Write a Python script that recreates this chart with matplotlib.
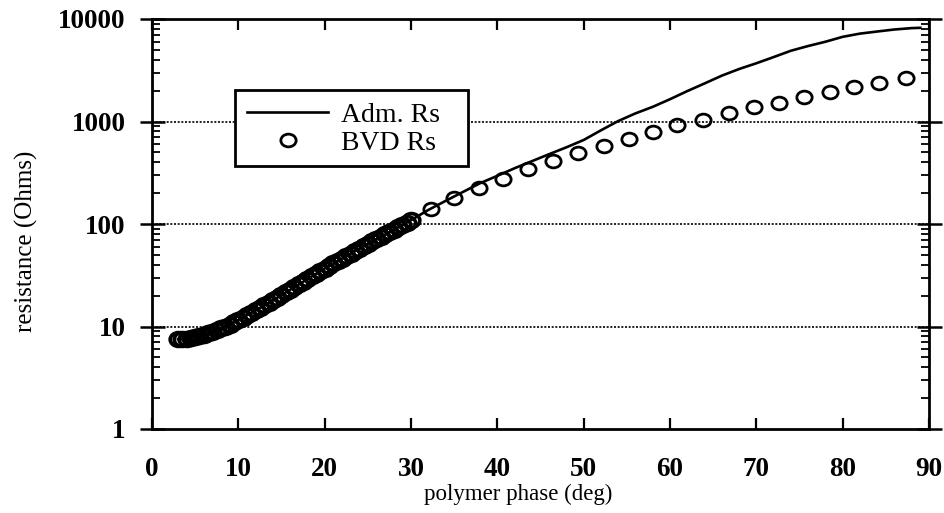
import matplotlib
matplotlib.use("Agg")
import matplotlib.pyplot as plt
from matplotlib.path import Path
from matplotlib.patches import Rectangle
from matplotlib.transforms import Affine2D
from matplotlib.ticker import LogLocator, FixedLocator, NullFormatter

# ---- data ----
# dense BVD Rs points (low phase region)
bvd_dense_phase = [3.0, 3.5, 4.0, 4.5, 5.0, 5.5, 6.0, 6.5, 7.0, 7.5, 8.0, 8.5, 9.0, 9.5,
                   10.0, 10.5, 11.0, 11.5, 12.0, 12.5, 13.0, 13.5, 14.0, 14.5, 15.0, 15.5,
                   16.0, 16.5, 17.0, 17.5, 18.0, 18.5, 19.0, 19.5, 20.0, 20.5, 21.0, 21.5,
                   22.0, 22.5, 23.0, 23.5, 24.0, 24.5, 25.0, 25.5, 26.0, 26.5, 27.0, 27.5,
                   28.0, 28.5, 29.0, 29.5, 30.0]
bvd_dense_rs = [7.5, 7.5, 7.6, 7.7, 7.9, 8.1, 8.3, 8.6, 8.9, 9.2, 9.6, 10.0, 10.4, 11.0,
                11.6, 12.2, 12.9, 13.6, 14.4, 15.2, 16.1, 17.0, 18.0, 19.1, 20.2, 21.5,
                22.8, 24.2, 25.7, 27.3, 29.0, 30.8, 32.7, 34.7, 36.8, 39.0, 41.2, 43.5,
                46.0, 48.7, 51.5, 54.5, 57.5, 60.7, 64.0, 67.5, 71.0, 75.0, 79.0, 83.5,
                88.0, 93.0, 98.0, 103, 109]
# sparse BVD Rs points (high phase region)
bvd_sparse_phase = [32.3, 35.0, 37.9, 40.7, 43.6, 46.5, 49.4, 52.3, 55.2, 58.0,
                    60.8, 63.8, 66.8, 69.7, 72.6, 75.5, 78.5, 81.3, 84.2, 87.3]
bvd_sparse_rs = [140, 181, 226, 277, 343, 416, 490, 577, 681, 796,
                 925, 1035, 1222, 1380, 1531, 1729, 1936, 2148, 2376, 2636]

# Adm. Rs line
adm_phase = [3.0, 4.0, 5.0, 6.0, 7.0, 8.0, 9.0, 10.0, 12.0, 14.0, 16.0, 18.0, 20.0,
             22.0, 24.0, 26.0, 28.0, 30.0, 32.0, 34.0, 36.0, 38.0, 40.0, 42.0, 44.0,
             46.0, 48.0, 50.0, 52.0, 54.0, 56.0, 58.0, 60.0, 62.0, 64.0, 66.0, 68.0,
             70.0, 72.0, 74.0, 76.0, 78.0, 80.0, 82.0, 84.0, 86.0, 88.0, 89.0]
adm_rs = [7.5, 7.6, 7.9, 8.3, 8.9, 9.6, 10.4, 11.6, 14.4, 18.0, 22.8, 29.0, 36.8,
          46.0, 57.5, 71.0, 88.0, 109, 137, 168, 205, 250, 295, 350, 410,
          480, 560, 660, 820, 1010, 1200, 1390, 1650, 1980, 2350, 2800, 3250,
          3700, 4250, 4900, 5450, 6000, 6700, 7200, 7550, 7900, 8150, 8200]

x_ticks = [0, 10, 20, 30, 40, 50, 60, 70, 80, 90]
y_ticks = [1, 10, 100, 1000, 10000]
y_tick_labels = ["1", "10", "100", "1000", "10000"]
x_label = "polymer phase (deg)"
y_label = "resistance (Ohms)"
series_names = ["Adm. Rs", "BVD Rs"]

# ---- figure ----
plt.rcParams['font.family'] = ['Liberation Serif', 'DejaVu Serif']
fig = plt.figure(figsize=(9.45, 5.13), dpi=100)
ax = fig.add_axes([152/945, 1-429/513, (929-152)/945, (429-19)/513])

ell = Path.unit_circle().transformed(Affine2D().scale(1.2, 1.0))

line, = ax.plot(adm_phase, adm_rs, color='black', lw=1.9, zorder=3)
ax.plot(bvd_dense_phase, bvd_dense_rs, linestyle='none', marker=ell, ms=12,
        mfc='none', mec='black', mew=2.6, zorder=4)
pts, = ax.plot(bvd_sparse_phase, bvd_sparse_rs, linestyle='none', marker=ell, ms=11,
               mfc='none', mec='black', mew=2.0, zorder=4)

ax.set_yscale('log')
ax.set_xlim(0, 90)
ax.set_ylim(1, 10000)

ax.xaxis.set_major_locator(FixedLocator(x_ticks))
ax.set_xticklabels([str(t) for t in x_ticks])
ax.yaxis.set_major_locator(FixedLocator(y_ticks))
ax.set_yticklabels(y_tick_labels)
ax.yaxis.set_minor_locator(LogLocator(base=10, subs=range(2, 10)))
ax.yaxis.set_minor_formatter(NullFormatter())

for lab in ax.get_xticklabels() + ax.get_yticklabels():
    lab.set_fontweight('bold')
    lab.set_fontsize(19.5)

ax.tick_params(axis='x', which='major', direction='in', length=8, width=1.6,
               top=True, bottom=True, pad=20)
ax.tick_params(axis='y', which='major', direction='inout', length=18, width=1.8,
               left=True, right=True, pad=10)
ax.tick_params(axis='y', which='minor', direction='in', length=6, width=1.3,
               left=True, right=True)

for s in ax.spines.values():
    s.set_linewidth(2.0)

for yv in [10, 100, 1000]:
    ax.axhline(yv, color='black', lw=1.2, ls=(0, (1.2, 1.0)), zorder=1)

ax.set_xlabel(x_label, fontsize=16.5, va='center', ha='center')
ax.xaxis.set_label_coords((518-152)/777, (429-494)/410)
ax.set_ylabel(y_label, fontsize=18, va='center', ha='center')
ax.yaxis.set_label_coords((26-152)/777, (429-241)/410)

# legend box (white, black border)
bx0 = (235-152)/777
by0 = (429-166)/410
bw = (468-235)/777
bh = (166-90)/410
ax.add_patch(Rectangle((bx0, by0), bw, bh, transform=ax.transAxes,
                       facecolor='white', edgecolor='black', lw=2.0, zorder=5))
leg = ax.legend([line, pts], series_names, loc='upper left',
                bbox_to_anchor=((235-152)/777, (429-90)/410),
                fontsize=20, frameon=False, handlelength=2.9,
                borderpad=0.45, labelspacing=0.1, handletextpad=0.47,
                borderaxespad=0)
leg.set_zorder(6)

fig.savefig('out.png', dpi=100)
